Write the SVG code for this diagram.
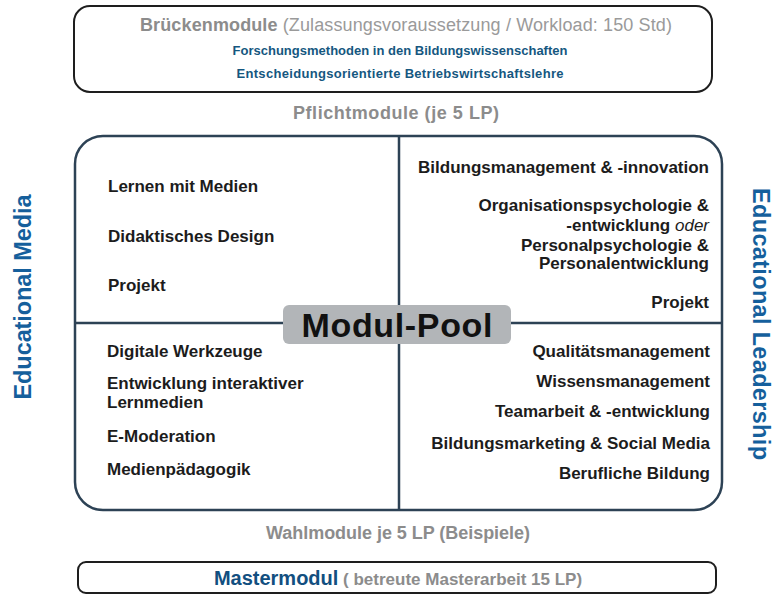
<svg xmlns="http://www.w3.org/2000/svg" width="778" height="595" viewBox="0 0 778 595">
<style>
.b{font-family:"Liberation Sans",Arial,sans-serif;font-weight:bold;font-size:17px;fill:#1c1c1c}
.g{font-family:"Liberation Sans",Arial,sans-serif;font-weight:bold;font-size:18px;fill:#8c8c8c}
.gr{font-family:"Liberation Sans",Arial,sans-serif;font-size:18px;fill:#9a9a9a}
.bl{font-family:"Liberation Sans",Arial,sans-serif;font-weight:bold;font-size:13px;fill:#15577f}
.side{font-family:"Liberation Sans",Arial,sans-serif;font-weight:bold;font-size:23.5px;fill:#155f9c}
.box{fill:#fff;stroke:#1e1e1e;stroke-width:2}
.pool{fill:none;stroke:#2d4255;stroke-width:2.5}
.r{text-anchor:end}
.m{text-anchor:middle}
</style>
<rect width="778" height="595" fill="#fff"/>

<g id="brueckenmodule">
<rect class="box" x="74" y="6" width="638" height="86" rx="16"/>
<text x="140" y="31" class="g" textLength="532">Brückenmodule <tspan class="gr" font-weight="normal" fill="#9a9a9a">(Zulassungsvoraussetzung / Workload: 150 Std)</tspan></text>
<text x="400" y="55" class="bl m" textLength="335">Forschungsmethoden in den Bildungswissenschaften</text>
<text x="400" y="78" class="bl m" textLength="327">Entscheidungsorientierte Betriebswirtschaftslehre</text>
</g>

<text x="396" y="119" class="g m" textLength="206">Pflichtmodule (je 5 LP)</text>

<g id="connectors">
<rect class="pool" x="75" y="136" width="647" height="374" rx="28"/>
<line class="pool" x1="399" y1="136" x2="399" y2="510"/>
<line class="pool" x1="75" y1="323" x2="722" y2="323"/>
</g>

<g id="modul-pool">
<rect x="283" y="305" width="228" height="39" rx="6" fill="#b2b5b8"/>
<text x="397" y="337" class="m" font-family="Liberation Sans, Arial, sans-serif" font-weight="bold" font-size="34" fill="#111" textLength="191">Modul-Pool</text>
</g>

<g id="pflicht-media">
<text x="108" y="192" class="b">Lernen mit Medien</text>
<text x="108" y="242" class="b">Didaktisches Design</text>
<text x="108" y="291" class="b">Projekt</text>
</g>

<g id="pflicht-leadership">
<text x="709" y="173" class="b r">Bildungsmanagement &amp; -innovation</text>
<text x="709" y="211" class="b r">Organisationspsychologie &amp;</text>
<text x="709" y="231" class="b r">-entwicklung <tspan font-style="italic" font-weight="normal">oder</tspan></text>
<text x="709" y="251" class="b r">Personalpsychologie &amp;</text>
<text x="709" y="269" class="b r">Personalentwicklung</text>
<text x="709" y="308" class="b r">Projekt</text>
</g>

<g id="wahl-media">
<text x="107" y="357" class="b">Digitale Werkzeuge</text>
<text x="107" y="389" class="b">Entwicklung interaktiver</text>
<text x="107" y="408" class="b">Lernmedien</text>
<text x="107" y="442" class="b">E-Moderation</text>
<text x="107" y="475" class="b">Medienpädagogik</text>
</g>

<g id="wahl-leadership">
<text x="710" y="357" class="b r">Qualitätsmanagement</text>
<text x="710" y="387" class="b r">Wissensmanagement</text>
<text x="710" y="417" class="b r">Teamarbeit &amp; -entwicklung</text>
<text x="710" y="449" class="b r">Bildungsmarketing &amp; Social Media</text>
<text x="710" y="479" class="b r">Berufliche Bildung</text>
</g>

<text x="398" y="539" class="g m" textLength="264">Wahlmodule je 5 LP (Beispiele)</text>

<g id="mastermodul">
<rect class="box" x="78" y="562" width="638" height="31" rx="8"/>
<text x="398" y="585" class="m" font-family="Liberation Sans, Arial, sans-serif" font-weight="bold"><tspan font-size="20" fill="#124f80">Mastermodul</tspan><tspan font-size="17" fill="#8c8c8c"> ( betreute Masterarbeit 15 LP)</tspan></text>
</g>

<g id="educational-media">
<text class="side m" transform="translate(31,297) rotate(-90)" x="0" y="0" textLength="205">Educational Media</text>
</g>
<g id="educational-leadership">
<text class="side m" transform="translate(753,324) rotate(90)" x="0" y="0" textLength="272">Educational Leadership</text>
</g>
</svg>
